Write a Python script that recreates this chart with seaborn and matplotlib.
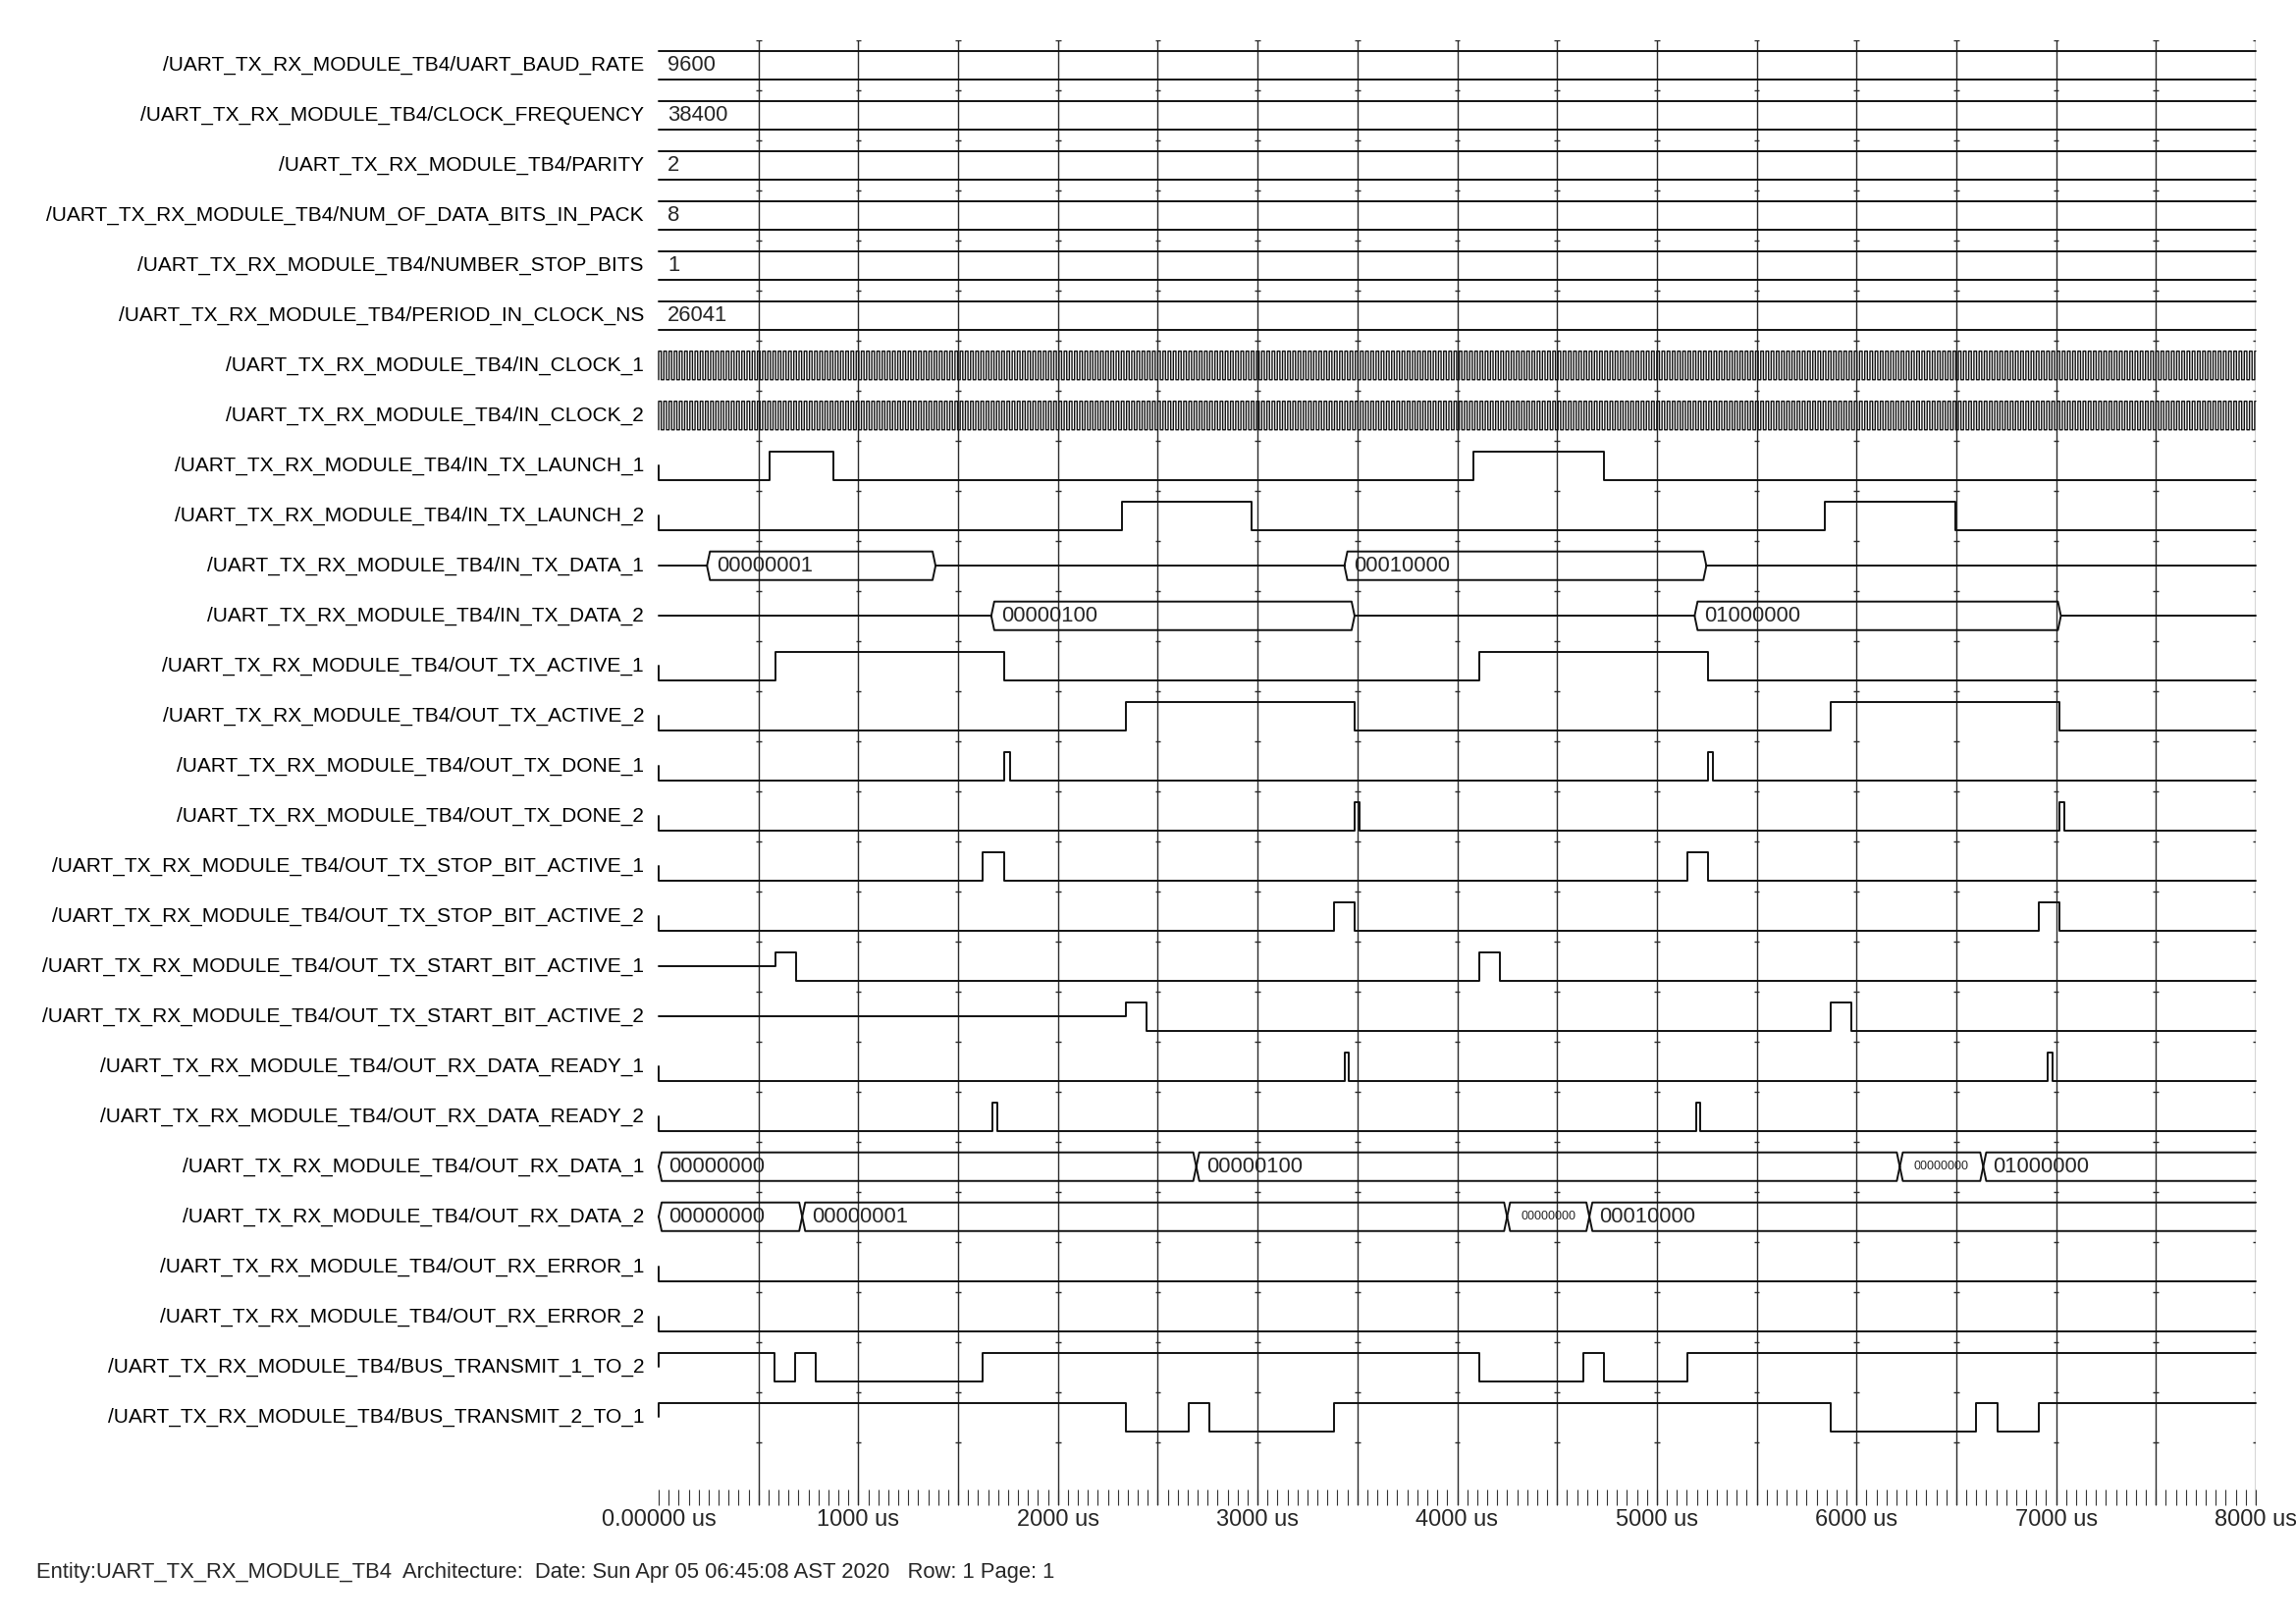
import numpy as np
import pandas as pd
import matplotlib
matplotlib.use("Agg")
import matplotlib.pyplot as plt
import matplotlib.transforms as mtransforms
from matplotlib import font_manager
from matplotlib.ticker import MultipleLocator
import seaborn as sns

# =====================
# DATA (times in us)
# =====================
T_END = 8000
prefix = "/UART_TX_RX_MODULE_TB4/"
signal_names = [
    "UART_BAUD_RATE", "CLOCK_FREQUENCY", "PARITY", "NUM_OF_DATA_BITS_IN_PACK",
    "NUMBER_STOP_BITS", "PERIOD_IN_CLOCK_NS", "IN_CLOCK_1", "IN_CLOCK_2",
    "IN_TX_LAUNCH_1", "IN_TX_LAUNCH_2", "IN_TX_DATA_1", "IN_TX_DATA_2",
    "OUT_TX_ACTIVE_1", "OUT_TX_ACTIVE_2", "OUT_TX_DONE_1", "OUT_TX_DONE_2",
    "OUT_TX_STOP_BIT_ACTIVE_1", "OUT_TX_STOP_BIT_ACTIVE_2",
    "OUT_TX_START_BIT_ACTIVE_1", "OUT_TX_START_BIT_ACTIVE_2",
    "OUT_RX_DATA_READY_1", "OUT_RX_DATA_READY_2", "OUT_RX_DATA_1", "OUT_RX_DATA_2",
    "OUT_RX_ERROR_1", "OUT_RX_ERROR_2", "BUS_TRANSMIT_1_TO_2", "BUS_TRANSMIT_2_TO_1",
]

const_values = ["9600", "38400", "2", "8", "1", "26041"]
clock_period_us = 26.041   # from PERIOD_IN_CLOCK_NS

# toggle times of single-bit signals
launch_1 = [558, 873, 4081, 4734]
launch_2 = [2319, 2972, 5842, 6495]
active_1 = [583, 1732, 4110, 5255]
active_2 = [2341, 3486, 5872, 7016]
done_1 = [1732, 1758, 5255, 5281]
done_2 = [3486, 3512, 7016, 7042]
stop_1 = [1622, 1732, 5152, 5255]
stop_2 = [3383, 3486, 6914, 7016]
start_1 = [583, 687, 4110, 4213]
start_2 = [2341, 2445, 5872, 5976]
ready_1 = [3435, 3457, 6958, 6980]
ready_2 = [1673, 1695, 5196, 5218]
error_1 = []
error_2 = []
bus_1_to_2 = [580, 684, 788, 1622, 4110, 4631, 4735, 5152]
bus_2_to_1 = [2341, 2657, 2760, 3383, 5872, 6601, 6705, 6914]

# bus values: (from, to, value)
tx_data_1 = [(242, 1387, "00000001"), (3435, 5248, "00010000")]
tx_data_2 = [(1666, 3486, "00000100"), (5189, 7024, "01000000")]
rx_data_1 = [(0, 2693, "00000000"), (2693, 6217, "00000100"),
             (6217, 6635, "00000000"), (6635, 8000, "01000000")]
rx_data_2 = [(0, 719, "00000000"), (719, 4250, "00000001"),
             (4250, 4662, "00000000"), (4662, 8000, "00010000")]

tick_values = [0, 1000, 2000, 3000, 4000, 5000, 6000, 7000, 8000]
tick_labels = ["0.00000 us", "1000 us", "2000 us", "3000 us", "4000 us",
               "5000 us", "6000 us", "7000 us", "8000 us"]
footer = ("Entity:UART_TX_RX_MODULE_TB4  Architecture:  "
          "Date: Sun Apr 05 06:45:08 AST 2020   Row: 1 Page: 1")

rows = (
    [("const", v, None) for v in const_values]
    + [("clock", None, None), ("clock", None, None),
       ("bit", launch_1, 0), ("bit", launch_2, 0),
       ("bus", tx_data_1, None), ("bus", tx_data_2, None),
       ("bit", active_1, 0), ("bit", active_2, 0),
       ("bit", done_1, 0), ("bit", done_2, 0),
       ("bit", stop_1, 0), ("bit", stop_2, 0),
       ("bit", start_1, "z"), ("bit", start_2, "z"),
       ("bit", ready_1, 0), ("bit", ready_2, 0),
       ("bus", rx_data_1, None), ("bus", rx_data_2, None),
       ("bit", error_1, 0), ("bit", error_2, 0),
       ("bit", bus_1_to_2, 1), ("bit", bus_2_to_1, 1)]
)

# =====================
# SETTINGS
# =====================
sns.set_theme(style="white")
try:
    font_manager.findfont("Liberation Sans Narrow", fallback_to_default=False)
    FONT, FS_NAME, FS_VAL, FS_TICK = "Liberation Sans Narrow", 18, 18, 18
except Exception:
    FONT, FS_NAME, FS_VAL, FS_TICK = "Liberation Sans", 15.0, 15.8, 17
plt.rcParams["font.family"] = [FONT, "DejaVu Sans"]

H = 0.285   # half height of a trace, in rows
D = 15      # slant of bus edges, us
INK = "#111111"

# =====================
# BUILD TRACES
# =====================
def bit_points(row, init, edges):
    lv = {1: row - H, 0: row + H, "z": row}
    pts = [] if init == "z" else [(0, row)]
    state = init
    pts.append((0, lv[state]))
    for e in edges:
        new = 1 if state in (0, "z") else 0
        pts += [(e, lv[state]), (e, lv[new])]
        state = new
    pts.append((T_END, lv[state]))
    return [pts]


def bus_segments(row, boxes):
    top, bot = row - H, row + H
    segs, prev = [], 0
    for a, b, _ in boxes:
        if a > prev:
            segs.append([(prev, row), (a, row)])
        if b >= T_END:
            segs.append([(T_END, top), (a + D, top), (a, row), (a + D, bot), (T_END, bot)])
        else:
            segs.append([(a, row), (a + D, top), (b - D, top), (b, row),
                         (b - D, bot), (a + D, bot), (a, row)])
        prev = b
    if prev < T_END:
        segs.append([(prev, row), (T_END, row)])
    return segs


records, clock_records = [], []
uid = 0
for i, (kind, data, init) in enumerate(rows):
    if kind == "const":
        segs = [[(0, i - H), (T_END, i - H)], [(0, i + H), (T_END, i + H)]]
    elif kind == "bit":
        segs = bit_points(i, init, data)
    elif kind == "bus":
        segs = bus_segments(i, data)
    else:
        half = clock_period_us / 2
        toggles = np.arange(0, T_END, half)
        pts = [(0, i + H)]
        state = 0
        for e in toggles:
            new = 1 - state
            pts += [(e, i + H - 2 * H * state), (e, i + H - 2 * H * new)]
            state = new
        pts.append((T_END, i + H - 2 * H * state))
        for k, (x, y) in enumerate(pts):
            clock_records.append({"t": x, "y": y, "unit": uid, "order": k})
        uid += 1
        continue
    for seg in segs:
        for k, (x, y) in enumerate(seg):
            records.append({"t": x, "y": y, "unit": uid, "order": k})
        uid += 1

traces = pd.DataFrame(records)
clocks = pd.DataFrame(clock_records)

# =====================
# FIGURE
# =====================
W, Hpx = 2339, 1654
fig = plt.figure(figsize=(W / 100, Hpx / 100), dpi=100)
x0, x1 = 671, 2298
y_top, y_bot = 40.7, 1532.5
ax = fig.add_axes([x0 / W, 1 - y_bot / Hpx, (x1 - x0) / W, (y_bot - y_top) / Hpx])

grid_times = list(range(500, T_END + 1, 500))
ax.vlines(grid_times, -0.5, 28.75, color="#2a2a2a", lw=1.0, zorder=1)
for g in grid_times:
    ax.hlines(np.arange(-0.5, len(rows), 1.0), g - 14, g + 14, color="#2a2a2a", lw=1.0, zorder=1)

sns.lineplot(data=clocks, x="t", y="y", units="unit", estimator=None, sort=False,
             color=INK, linewidth=1.0, ax=ax, legend=False)
sns.lineplot(data=traces, x="t", y="y", units="unit", estimator=None, sort=False,
             color=INK, linewidth=1.4, ax=ax, legend=False)
for ln in ax.lines:
    ln.set_clip_on(False)

ax.set_xlim(0, T_END)
ax.set_ylim(28.75, -0.5)
ax.set_xlabel("")
ax.set_ylabel("")
ax.set_xticks(tick_values, tick_labels)
ax.xaxis.set_minor_locator(MultipleLocator(50))
ax.tick_params(axis="x", which="both", direction="in", length=11.5, width=0.8,
               color="#333333", bottom=True, top=False, pad=3, labelsize=FS_TICK)
ax.tick_params(axis="y", left=False, labelleft=False)
for s in ax.spines.values():
    s.set_visible(False)
ax.grid(False)

# signal names
trans = mtransforms.blended_transform_factory(ax.transAxes, ax.transData)
for i, name in enumerate(signal_names):
    ax.text(-15 / (x1 - x0), i, prefix + name, transform=trans, ha="right",
            va="center", fontsize=FS_NAME, color="black")

# values
for i, (kind, data, init) in enumerate(rows):
    if kind == "const":
        ax.annotate(data, xy=(0, i), xytext=(9, 0), textcoords="offset pixels",
                    ha="left", va="center", fontsize=FS_VAL)
    elif kind == "bus":
        for a, b, txt in data:
            if b - a < 600:
                ax.text((a + b) / 2, i, txt, ha="center", va="center", fontsize=9)
            else:
                ax.annotate(txt, xy=(a, i), xytext=(10, 0), textcoords="offset pixels",
                            ha="left", va="center", fontsize=FS_VAL)

fig.text(37 / W, 1 - 1602 / Hpx, footer, ha="left", va="center", fontsize=FS_VAL)

fig.savefig("out.png", dpi=100, facecolor="white")
